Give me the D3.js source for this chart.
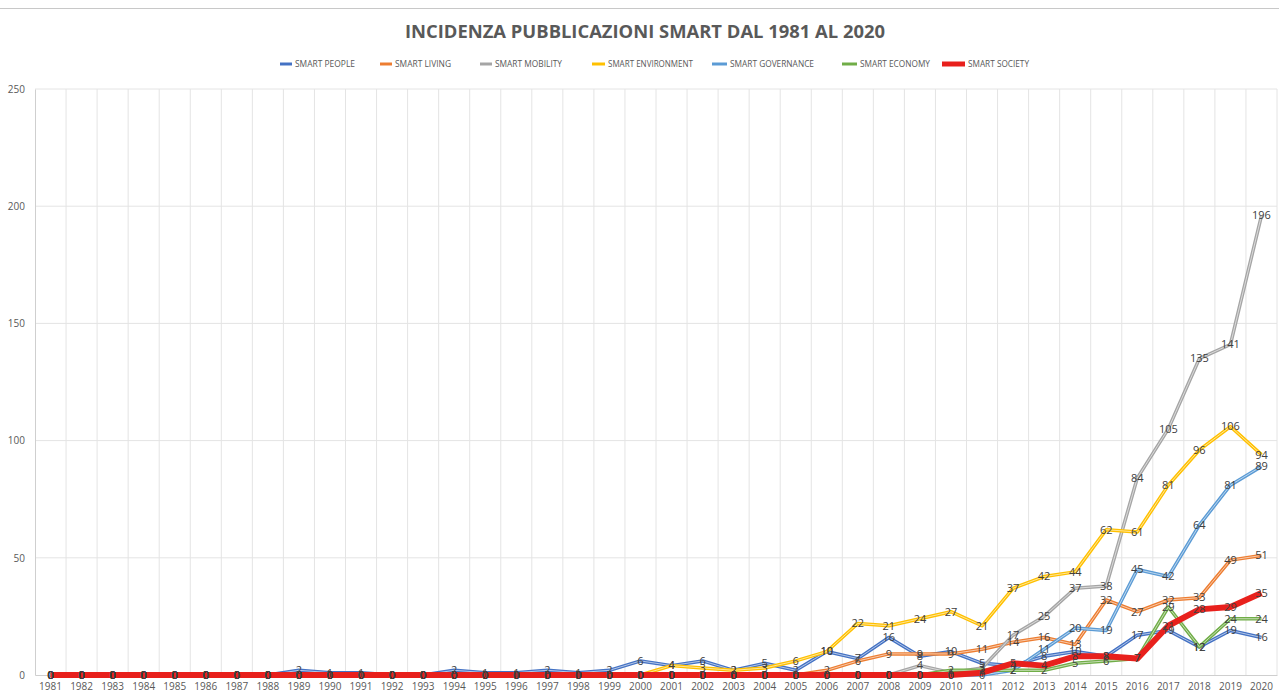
<!DOCTYPE html>
<html>
<head>
<meta charset="utf-8">
<script src="https://cdn.jsdelivr.net/npm/d3@7"></script>
<style>
  body { margin: 0; background: #fff; }
  svg { display: block; }
  .axis-lbl { font-family: "Liberation Sans Narrow", "Open Sans", sans-serif; font-size: 10px; fill: #595959; }
  .pt-lbl { font-family: "Liberation Sans Narrow", "Open Sans", sans-serif; font-size: 11px; fill: #404040; }
</style>
</head>
<body>
<div id="chart"></div>
<script>
// data
var years = d3.range(1981, 2021);
var seriesNames = ["SMART PEOPLE", "SMART LIVING", "SMART MOBILITY", "SMART ENVIRONMENT", "SMART GOVERNANCE", "SMART ECONOMY", "SMART SOCIETY"];
var seriesColors = ["#4472c4", "#ed7d31", "#a5a5a5", "#ffc000", "#5b9bd5", "#70ad47", "#e8201c"];
var yTicks = [0, 50, 100, 150, 200, 250];

//            1981.......................1990.........................2000........................2010........................2020
var people     = [0,0,0,0,0,0,0,0,2,1, 1,0,0,2,1,1,2,1,2,6, 4,6,2,5,2,10,7,16,8,10, 5,4,8,10,8,17,19,12,19,16];
var living     = [0,0,0,0,0,0,0,0,0,0, 0,0,0,0,0,0,0,0,0,0, 0,0,0,0,0,2,6,9,9,9, 11,14,16,13,32,27,32,33,49,51];
var mobility   = [0,0,0,0,0,0,0,0,0,0, 0,0,0,0,0,0,0,0,0,0, 0,0,0,0,0,0,0,0,4,1, 3,17,25,37,38,84,105,135,141,196];
var environment= [0,0,0,0,0,0,0,0,0,0, 0,0,0,0,0,0,0,0,0,0, 4,3,2,3,6,10,22,21,24,27, 21,37,42,44,62,61,81,96,106,94];
var governance = [0,0,0,0,0,0,0,0,0,0, 0,0,0,0,0,0,0,0,0,0, 0,0,0,0,0,0,0,0,0,0, 0,2,11,20,19,45,42,64,81,89];
var economy    = [0,0,0,0,0,0,0,0,0,0, 0,0,0,0,0,0,0,0,0,0, 0,0,0,0,0,0,0,0,0,2, 2,2,2,5,6,7,29,12,24,24];
var society    = [0,0,0,0,0,0,0,0,0,0, 0,0,0,0,0,0,0,0,0,0, 0,0,0,0,0,0,0,0,0,0, 1,5,4,8,8,7,21,28,29,35];

var seriesValues = [people, living, mobility, environment, governance, economy, society];

var W = 1279, H = 699;
var margin = {left: 35, right: 2, top: 89, bottom: 24};

var svg = d3.select("#chart").append("svg")
  .attr("width", W).attr("height", H);

var x = d3.scaleBand()
  .domain(years)
  .range([margin.left, W - margin.right]);

var y = d3.scaleLinear()
  .domain([0, 250])
  .range([H - margin.bottom, margin.top]);

// top rule
svg.append("line")
  .attr("x1", 0).attr("x2", W).attr("y1", 8.5).attr("y2", 8.5)
  .attr("stroke", "#c8c8c8");

// title
svg.append("text")
  .attr("x", 645).attr("y", 38)
  .attr("text-anchor", "middle")
  .attr("textLength", 480)
  .attr("lengthAdjust", "spacingAndGlyphs")
  .style("font-family", "'Open Sans', sans-serif")
  .style("font-size", "17px")
  .style("font-weight", "bold")
  .style("fill", "#595959")
  .text("INCIDENZA PUBBLICAZIONI SMART DAL 1981 AL 2020");

// legend
var legendX = [280, 380, 480, 592, 712, 842, 942];
var legendW = [12, 12, 12, 13, 15, 15, 23];
var legendTW = [60, 56, 67, 85, 84, 70, 61];
var legend = svg.append("g").attr("class", "legend");
seriesNames.forEach(function(name, i){
  var g = legend.append("g").attr("transform", "translate(" + legendX[i] + ",64)");
  g.append("line")
    .attr("x1", 0).attr("x2", legendW[i])
    .attr("stroke", seriesColors[i])
    .attr("stroke-width", i == 6 ? 5 : 3);
  g.append("text")
    .attr("x", legendW[i] + 3).attr("dy", "0.35em")
    .attr("textLength", legendTW[i])
    .attr("lengthAdjust", "spacingAndGlyphs")
    .style("font-family", "'Liberation Sans Narrow', 'Open Sans', sans-serif")
    .style("font-size", "9.5px")
    .style("fill", "#595959")
    .text(name);
});

// gridlines
var grid = svg.append("g").attr("class", "grid");
yTicks.forEach(function(t){
  if (t == 0) return;
  grid.append("line")
    .attr("x1", margin.left).attr("x2", W - margin.right)
    .attr("y1", y(t)).attr("y2", y(t))
    .attr("stroke", "#e4e4e4");
});
years.forEach(function(yr, i){
  grid.append("line")
    .attr("x1", x(yr) + x.bandwidth()).attr("x2", x(yr) + x.bandwidth())
    .attr("y1", y(250)).attr("y2", y(0))
    .attr("stroke", "#e4e4e4");
});

// axes
var xAxis = d3.axisBottom(x).tickSize(0).tickPadding(8);
var yAxis = d3.axisLeft(y).tickValues(yTicks).tickSize(0).tickPadding(10);

var gx = svg.append("g")
  .attr("transform", "translate(0," + y(0) + ")")
  .call(xAxis);
gx.select(".domain").attr("stroke", "#cfcfcf");
gx.selectAll("text").attr("class", "axis-lbl").attr("font-family", null).attr("font-size", null);

var gy = svg.append("g")
  .attr("transform", "translate(" + margin.left + ",0)")
  .call(yAxis);
gy.select(".domain").attr("stroke", "#cfcfcf");
gy.selectAll("text").attr("class", "axis-lbl").attr("font-family", null).attr("font-size", null);

// lines
var line = d3.line()
  .x(function(d, i){ return x(years[i]) + x.bandwidth() / 2; })
  .y(function(d){ return y(d); });

var lines = svg.append("g").attr("class", "lines");
seriesValues.forEach(function(vals, i){
  var c = seriesColors[i];
  if (i == 6) {
    lines.append("path")
      .attr("d", line(vals))
      .attr("fill", "none")
      .attr("stroke", c)
      .attr("stroke-width", 6)
      .attr("stroke-linejoin", "round");
  } else {
    lines.append("path")
      .attr("d", line(vals))
      .attr("fill", "none")
      .attr("stroke", c)
      .attr("stroke-width", 3.5)
      .attr("stroke-linejoin", "round");
    lines.append("path")
      .attr("d", line(vals))
      .attr("fill", "none")
      .attr("stroke", d3.interpolateRgb(c, "#fff")(0.6))
      .attr("stroke-width", 1)
      .attr("stroke-linejoin", "round");
  }
});

// data labels
var labels = svg.append("g").attr("class", "labels");
seriesValues.forEach(function(vals, i){
  labels.selectAll(".s" + i)
    .data(vals)
    .enter().append("text")
      .attr("class", "pt-lbl s" + i)
      .attr("x", function(d, j){ return x(years[j]) + x.bandwidth() / 2; })
      .attr("y", function(d){ return y(d); })
      .attr("dy", "0.35em")
      .attr("text-anchor", "middle")
      .text(function(d){ return d; });
});
</script>
</body>
</html>
